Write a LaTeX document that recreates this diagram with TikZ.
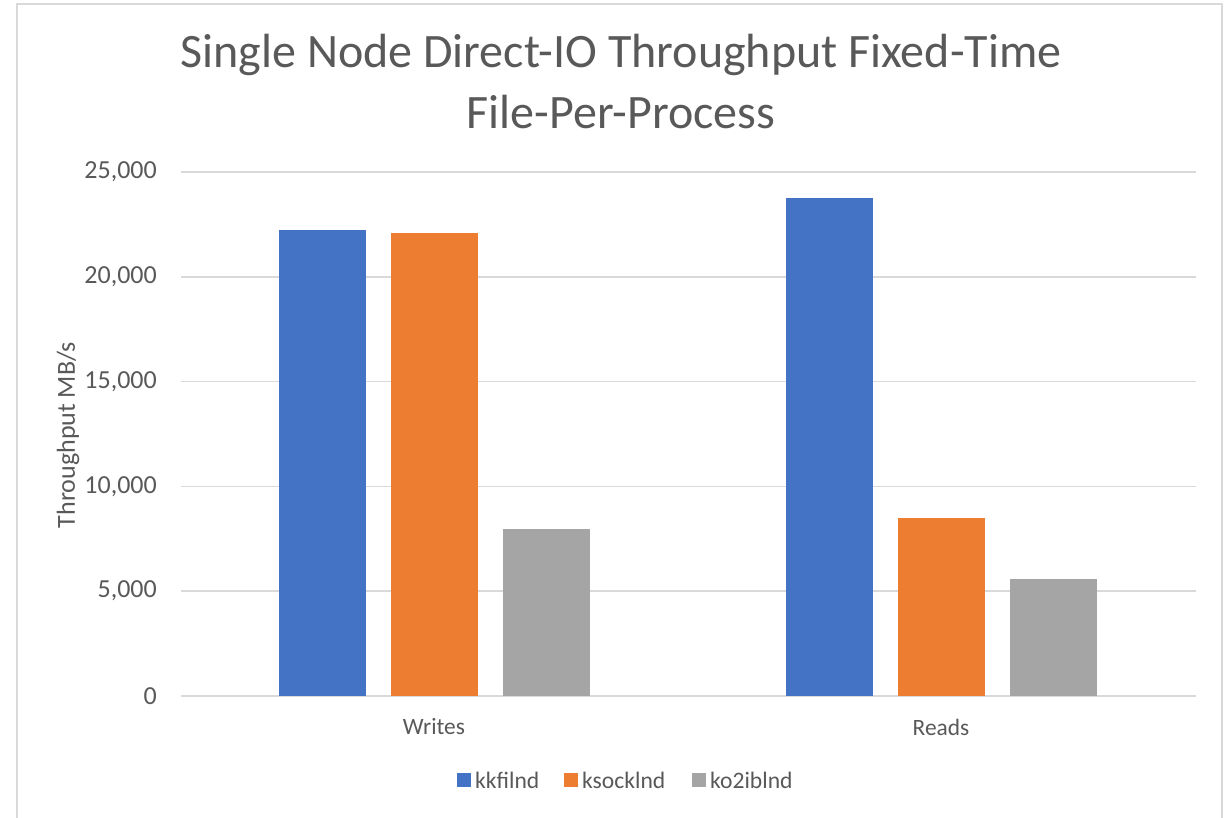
\documentclass[tikz,border=0pt]{standalone}
\usepackage{fontspec}
\setmainfont{Carlito}
\definecolor{serA}{HTML}{4472C4}
\definecolor{serB}{HTML}{ED7D31}
\definecolor{serC}{HTML}{A5A5A5}
\definecolor{txt}{HTML}{595959}
\definecolor{grid}{HTML}{D9D9D9}
\tikzset{
  gridline/.style={draw=grid, line width=1.5pt},
  ticklbl/.style={text=txt, anchor=east, inner sep=0pt, font=\fontsize{26}{30}\selectfont},
  catlbl/.style={text=txt, inner sep=0pt, font=\fontsize{23.4}{26}\selectfont},
  titlelbl/.style={text=txt, inner sep=0pt, font=\fontsize{48}{56}\selectfont},
  legkey/.style={minimum width=14pt, minimum height=14pt, inner sep=0pt},
  leglbl/.style={text=txt, anchor=west, inner sep=0pt, font=\fontsize{23.6}{26}\selectfont},
}
% value in thousands of MB/s to vertical position
\newcommand{\ypos}[1]{696-#1*20.96}
\newcommand{\drawbar}[4]{%
  \fill[#3] (#1,696) rectangle (#1+87,{\ypos{#2}});
  \coordinate (#4) at (#1+43.5,{\ypos{#2}});
}
\begin{document}
\begin{tikzpicture}[x=1pt,y=-1pt]
\useasboundingbox (0,0) rectangle (1224,817);
\clip (0,0) rectangle (1224,817);
\fill[white] (0,0) rectangle (1224,817);
% chart frame
\draw[draw=grid, line width=1.5pt] (17,4) rectangle (1222,860);

% title
\node[titlelbl] (title1) at (621,55) {Single Node Direct-IO Throughput Fixed-Time};
\node[titlelbl] (title2) at (621,112) {File-Per-Process};

% gridlines and value labels
\foreach \v/\lab in {0/0,5/{5,000},10/{10,000},15/{15,000},20/{20,000},25/{25,000}}{
  \draw[gridline] (181,{\ypos{\v}}) -- (1196,{\ypos{\v}});
  \node[ticklbl] at (157,{\ypos{\v}}) {\lab};
}

% axis title
\node[text=txt, rotate=90, inner sep=0pt, font=\fontsize{26}{30}\selectfont] (ytitle) at (68,435) {Throughput MB/s};

% bars: Writes
\drawbar{279}{22.23}{serA}{w1}
\drawbar{391}{22.09}{serB}{w2}
\drawbar{503}{7.97}{serC}{w3}
% bars: Reads
\drawbar{786}{23.76}{serA}{r1}
\drawbar{898}{8.49}{serB}{r2}
\drawbar{1010}{5.58}{serC}{r3}

% category labels
\node[catlbl] (cw) at (434,727) {Writes};
\node[catlbl] (cr) at (941,727) {Reads};

% legend
\node[legkey, fill=serA] (k1) at (464,780) {};
\node[leglbl] (l1) at (475,780) {kkfilnd};
\node[legkey, fill=serB] (k2) at (571,780) {};
\node[leglbl] (l2) at (582,780) {ksocklnd};
\node[legkey, fill=serC] (k3) at (699,780) {};
\node[leglbl] (l3) at (710,780) {ko2iblnd};
\end{tikzpicture}
\end{document}
